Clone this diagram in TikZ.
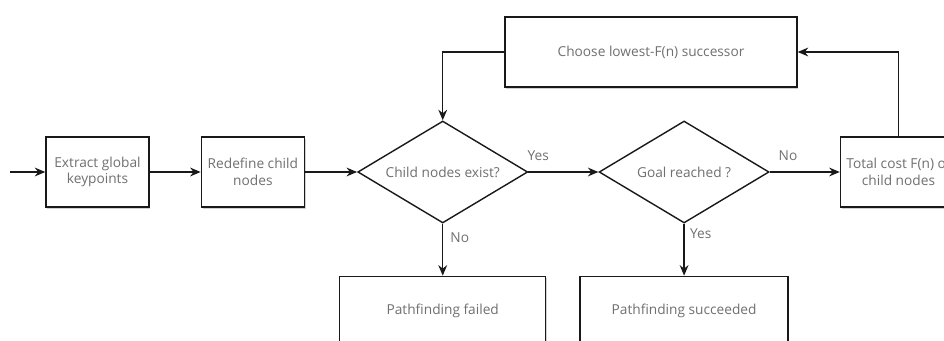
\documentclass[tikz,border=0pt]{standalone}
\usepackage{fontspec}
\setmainfont{Open Sans}
\usepackage{tikz}
\usetikzlibrary{arrows.meta,positioning,shapes,shadows}
\definecolor{flowtext}{RGB}{112,112,112}
\definecolor{flowline}{RGB}{25,25,25}
\newcommand\flowfont{\fontsize{7.8}{9.6}\selectfont}
\tikzset{
  procbox/.style={draw=flowline, line width=0.8pt, fill=white, align=center,
                  minimum width=#1, minimum height=1.4cm, inner sep=1.5pt,
                  font=\flowfont, text=flowtext,
                  drop shadow={shadow xshift=0.7pt, shadow yshift=-0.9pt,
                               fill=black!40, opacity=0.45}},
  procbox/.default=2.06cm,
  decbox/.style ={diamond, aspect=1.67, draw=flowline, line width=0.8pt, fill=white,
                  minimum width=3.4cm, minimum height=2.04cm, inner sep=0pt,
                  font=\flowfont, text=flowtext},
  lbl/.style    ={font=\flowfont, text=flowtext, inner sep=1pt},
  arr/.style    ={-{Stealth[length=6pt, width=5pt]}, line width=0.8pt, draw=flowline},
}

\begin{document}
\begin{tikzpicture}[x=0.02cm, y=-0.02cm]
  \useasboundingbox (0,0) rectangle (944,341);
  \clip (0,0) rectangle (944,341);
  % main row
  \coordinate (start) at (10,172);
  \node[procbox] (extract) at (97.5,172) {Extract global\\keypoints};
  \node[procbox, right=1.02cm of extract] (redef) {Redefine child\\nodes};
  \node[decbox, right=1.04cm of redef] (exist) {Child nodes exist?};
  \node[decbox, right=1.4cm of exist] (goal) {Goal reached ?};
  \node[procbox=2.32cm, right=1.4cm of goal] (cost) {Total cost F(n) of\\child nodes};
  % loop back and results
  \node[procbox=5.84cm] (choose) at (651,52) {Choose lowest-F(n) successor};
  \node[procbox=4.12cm, below=1.04cm of exist] (failed) {Pathfinding failed};
  \node[procbox=4.16cm, below=1.04cm of goal] (success) {Pathfinding succeeded};

  \draw[arr] (start) -- (extract);
  \draw[arr] (extract) -- (redef);
  \draw[arr] (redef) -- (exist);
  \draw[arr] (exist) -- node[lbl, pos=0.14, above=5pt] {Yes} (goal);
  \draw[arr] (goal) -- node[lbl, pos=0.26, above=5pt] {No} (cost);
  \draw[arr] (exist) -- node[lbl, pos=0.27, right=3pt] {No} (failed);
  \draw[arr] (goal) -- node[lbl, pos=0.19, right=2pt] {Yes} (success);
  \draw[arr] (cost.north) |- (choose.east);
  \draw[arr] (choose.west) -| (exist.north);
\end{tikzpicture}
\end{document}
